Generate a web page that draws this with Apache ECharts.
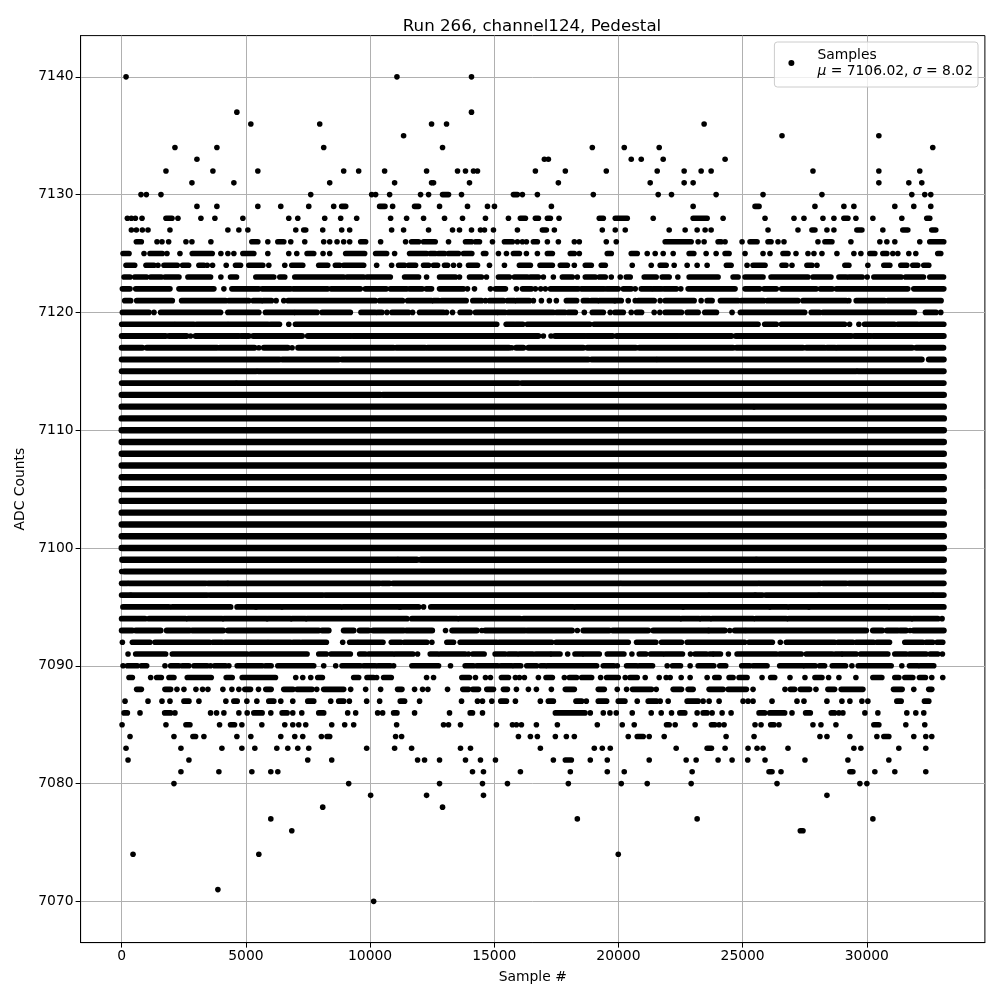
<!DOCTYPE html>
<html>
<head>
<meta charset="utf-8">
<title>Run 266, channel124, Pedestal</title>
<script src="https://cdn.jsdelivr.net/npm/echarts@6/dist/echarts.min.js"></script>
<style>
html,body{margin:0;padding:0;background:#fff}
#main{width:1000px;height:1000px}
</style>
</head>
<body>
<div id="main"></div>
<script>
// sample numbers read per ADC level. a number is one dot, [from,to] a stretch where the dots merge into a bar
const upperTail = {
  7140:[175,11082,14084],
  7137:[4637,14084],
  7136:[5199,7973,12476,13079,23450],
  7135:[11350,26586,30485],
  7134:[2144,3833,8134,12918,18948,20234,21641,32656],
  7133:[3029,17018,17179,20516,20918,21802,24294],
  7132:[1782,3672,5481,8938,9541,10586,12275,13521,13842,14164,14325,16656,17862,19511,21561,22646,23330,23732,27832,30485,32133],
  7131:[2828,4516,8375,10988,12476,12556,14003,17581,21279,22646,23008,30485,31691,32214],
  7130:[777,992,1581,7611,10064,10224,10787,12033,12355,[12918,13159],13682,[15772,15933],16134,16737,18988,21601,22137,23933,25822,28194,31812,32334,32576],
  7129:[3029,3833,5481,6405,7531,8536,[8858,9018],[10385,10600],10908,[11792,11953],12797,13923,14727,15008,17300,23008,[25500,25661],27912,29078,29480,31128,31892,32576],
  7128:[228,389,550,818,[1782,2024],2265,3189,3752,4878,6727,7089,8174,8817,9461,10827,11471,12154,12998,13722,14646,15571,[16053,16254],[16656,16777],[17139,17259],17608,[19229,19390],[19872,20355],21400,[23008,23571],24214,25902,27068,27470,28234,28676,[29078,29239],29561,30244,31410,[32415,32535]],
  7127:[389,590,831,1059,1943,4275,4717,5079,7008,[7330,7410],8094,8858,9179,10868,11350,12355,13320,13601,14084,14445,14606,14968,15933,[16938,17098],17420,19350,19872,20274,22043,22686,23169,23490,23732,26023,27229,[27792,27912],28395,28676,[29601,29802],30646,[31450,31651],[32616,32777]],
  7126:[[590,790],1421,1622,1890,2586,2828,3591,[5240,5481],5883,[6285,6526],6807,7370,8134,8375,8670,8938,9179,[9622,9822],10425,11430,[11672,11953],[12154,12623],13159,[13842,14084],[14244,14405],14928,[15410,15732],15933,16134,16295,[16576,16737],17139,17581,18224,18425,19511,19913,[21882,22928],23209,23450,[24013,24134],24294,24978,[25299,25581],[26023,26144],26425,26666,28033,[28314,28596],29360,30525,30807,31128,32133,[32535,33098]],
  7125:[[54,295],898,[1139,1635],1823,2345,[2841,3645],3993,4275,4516,[4878,5320],5883,6727,7049,[7464,7732],8107,8375,[9018,9782],[10224,10667],10988,[11591,12275],[12422,12623],[12757,12998],[13159,13561],[13762,14097],[14566,14660],15169,15491,[15772,16013],16295,16737,[17139,17340],[18063,18224],18425,[19551,19712],[20516,20757],21159,21480,21802,22204,[22847,23035],23531,23933,[24294,24455],25098,25822,26103,[26626,26827],27149,27631,27872,28194,28797,29480,29762,[30123,30324],[30646,30807],31048,31249,31691,31973,[32857,32978]],
  7124:[[174,523],[978,1300],1461,[1702,2238],[2452,2694],[3109,3310],3444,3658,4208,[4583,4784],[5119,5682],5923,6566,[6848,7290],[7933,8295],[8603,8777],[8938,9742],10265,10868,[11149,11390],[11551,11832],[12154,12355],[12556,12717],[12998,13119],13360,13601,[13963,14325],14807,15410,[16013,16455],[16844,17340],[17661,17943],18224,[18666,18908],[19310,19470],20556,21320,[21681,21922],22244,22767,23169,23571,[24348,24536],25179,[25420,25902],[26586,26747],26988,[27591,27792],27993,[29118,29279],30043,[30686,30927],[31370,31611],[31852,32053],[32294,32495]],
  7123:[[94,335],[523,1005],[1166,1595],[1742,2305],[2667,3578],3993,[4382,4623],[5400,6124],[6365,6566],[6968,8938],[9072,9742],[9876,10815],[11390,11953],12275,[12797,13440],13601,[14003,14486],14687,[15169,15611],[15812,16335],[16455,16777],16978,17380,[17742,18144],18345,[18666,19068],[19229,19470],19712,20073,[20315,20475],[21038,21521],[21762,22043],22392,[22847,24013],[24616,24817],[25098,25822],[26144,27631],[27832,28556],[28877,29172],[29279,29815],30016,[30284,31383],[31557,32281],[32535,33090]],
  7122:[[27,335],[563,1943],[2305,3712],4114,[4436,5521],[5655,6794],[6901,8295],[8429,9608],[9809,10653],[10814,11484],[11591,12100],[12261,12476],[12797,13762],13923,14204,14847,[15048,15450],15893,[16134,16496],16656,16871,17058,[17259,18385],[18506,19430],[19524,19993],[20194,20516],20676,[20918,21333],[21400,21735],[21829,22338],22512,[22807,24696],[25098,25688],[25862,26358],[26572,27966],[28127,28609],[28770,31651],[31892,33100]],
  7121:[[121,362],[603,2037],[2412,4181],[4315,5119],[5293,5615],[5695,6030],6218,6526,[6700,10211],[10385,11310],[11511,12476],[12556,12757],[12878,13869],[14137,14486],14646,[14807,15370],[15530,15812],[15893,16415],16576,16898,17219,17501,[17903,18318],[18586,18787],[18908,19149],[19229,19832],[19872,20114],20395,20676,[20797,21440],21681,[21882,23048],23330,[23571,23772],[24107,24817],[24951,25849],[25996,27229],[27430,29172],29279,[29574,30713],[30847,32991]],
  7120:[[27,1099],1300,[1568,3980],[4275,5521],[5789,6928],[6995,7866],[8067,9206],[9635,10211],[10305,10479],10680,[10881,11551],11712,[11993,12958],13079,13320,[13628,14030],[14244,15102],[15169,15437],[15571,17380],[17514,17849],[17983,18264],18626,[18948,19390],19671,[19859,20194],20516,[20730,20931],21440,21668,[21882,22539],[22767,23209],[23477,23946],24576,[24911,27497],[27765,28100],[28234,31919],[32361,32790],32978],
  7119:[[0,2104],[2171,2908],[3015,4248],[4315,5896],[5990,6352],6727,[6995,15100],[15480,15800],[15880,16150],[16330,18850],[19020,25621],[25889,26358],[26559,29105],29306,29681,[29909,31115],[31249,32053],[32147,33100]]
};
const shoulderHigh = {
  7118:[[0,1769],[1903,2613],2774,[2975,4717],[4811,5119],[5293,7263],[7491,9233],[9313,12221],[12261,16777],16978,17286,[17447,18653],[18720,19765],[19926,22405],[22472,24549],[24723,29373],[29507,30177],[30271,33100]],
  7117:[[0,831],[1005,3846],[3953,5347],5521,[5722,6687],6861,[7102,10948],[11055,12221],[12315,15598],15705,[15879,16174],[16375,18586],[18747,20703],[20837,24616],[24750,27430],[27564,28301],[28395,28730],[28810,31825],[31986,33085]],
  7116:[[0,6352],[6459,8737],[8871,18787],[18921,21507],[21574,32214],[32495,33100]],
  7115:[[0,5414],[5494,29574],[29641,33100]],
  7114:[[0,4583],[4650,15972],[16107,33100]]
};
const core = {
  7113:[[0,10412],[10519,33100]],
  7112:[[0,25420],[25500,33100]],
  7111:[[0,33100]],
  7110:[[0,33100]],
  7109:[[0,33100]],
  7108:[[0,33100]],
  7107:[[0,33100]],
  7106:[[0,33100]],
  7105:[[0,33100]],
  7104:[[0,33100]],
  7103:[[0,33100]],
  7102:[[0,33100]],
  7101:[[0,33100]],
  7100:[[0,33100]],
  7099:[[27,11082],[11149,11886],[12047,25527],[25581,33100]]
};
const shoulderLow = {
  7098:[0,[94,13655],[13735,33100]],
  7097:[[0,228],[295,3377],[3470,4248],[4288,10385],[10479,10787],[10921,20060],[20127,25621],[25688,28127],[28234,29172],[29279,33100]],
  7096:[[0,335],[389,3444],[3551,8094],[8201,23611],[23678,25487],[25527,25795],[25929,28033],[28100,32629],[32696,33100]],
  7095:[[54,1903],[2037,4382],[4650,5387],[5427,6419],[6486,8804],[8911,11189],[11216,11953],12154,[12449,18184],[18278,22579],[22633,26063],[26130,26787],[26894,27644],[27698,30847],[30941,33100]],
  7094:[[0,938],[1099,2573],[2667,4047],[4114,5829],[5883,6794],[6861,7397],[7464,11484],[11685,13494],[13601,16040],[16174,22472],[22552,23249],[23330,23678],[23772,25420],[25527,26760],[26854,31785],[31852,32857],33031],
  7093:[[0,429],[563,1568],[1809,2734],[2841,4087],[4275,7933],[8067,8335],[8938,9340],[9581,9943],[10117,11350],[11457,12502],13038,[13306,14298],14499,[14633,16241],[16335,18130],18345,[18586,19631],[19765,21199],[21400,23611],[23651,24281],24482,[24683,25085],[25152,29976],[30244,30619],[30807,31249],[31343,31584],31745,[31878,33100]]
};
const lowerTail = {
  7092:[27,[429,1139],[1340,3538],[3672,4047],[4154,4985],[5079,5856],[5923,6794],[6901,7169],[7263,8241],8898,[9179,9474],[9541,10519],[10855,11243],[11377,12288],12489,[13092,13360],[13628,15102],[15196,17313],[17487,20395],[20730,21507],[21735,22539],[22767,25085],[25259,26197],26519,[26760,28703],[28837,29440],[29574,30271],[30405,30914],[31530,32254],[32388,32656],[32830,33058]],
  7091:[255,[563,1769],[2037,5052],[5186,7464],[7933,8241],[8429,9206],[9581,9809],[9943,10921],[11015,11725],11913,[12422,12717],[12824,13829],13963,[14137,14593],[15035,15437],[15571,15906],[16013,16549],[16670,17246],[17313,17648],17956,[18251,18532],[18613,19229],[19551,20221],20542,[20837,21105],[21293,21775],[21869,22579],22901,[23088,23544],[23678,23785],[23852,24107],24428,[24777,26358],[26492,27363],[27564,28609],[28730,28971],[29038,29574],[29748,30847],[31128,31584],[31718,32388],[32549,32857],33045],
  7090:[54,[228,630],[791,1005],1742,[1970,2305],[2439,2707],[2908,3444],3578,[3739,4181],4315,[4650,5655],[5789,6017],[6285,7732],8134,8616,[8871,9608],[9742,10211],[10318,10814],10948,[11685,12757],13239,[13829,14164],[14298,15142],[15263,15705],[15799,16067],[16308,16710],[16871,17045],[17139,19122],[19390,19819],19953,[20328,20730],[20837,21373],21963,[22177,22499],22887,[23209,23839],[24080,24321],[24964,25286],[25420,25983],[26492,27430],[27497,27926],[28100,28301],[28609,29145],29400,[29654,30981],31410,[31718,32053],[32147,32696]],
  7089:[[295,429],1166,[1407,1595],[1903,2104],[2640,3605],[4208,4449],[4851,6191],7008,7290,7611,[7893,8080],[9340,9541],[9876,10144],10265,[10546,10854],12275,12556,[13695,14003],14244,14646,14847,[15290,15571],15852,16013,16214,16777,[17085,17340],17822,[18023,18318],[18519,18921],19283,[19524,19993],20274,[20462,20757],21078,21641,21923,22083,22526,22887,23571,[23879,24053],[24455,24616],[24857,25179],25782,[26130,26291],26907,27510,[27912,28194],28462,28877,29561,[30244,30606],[31128,31289],[31530,31852],[32120,32361],32616,33058],
  7088:[[603,791],[1742,1970],2225,2506,2988,3256,3471,4074,4436,4717,[4958,5186],5508,[5802,6017],[6526,6901],[7062,7665],7853,[8134,8938],9219,9822,10425,[11109,11283],11792,12114,12328,13119,[13735,13963],[14137,14365],[14700,14968],[15370,15531],15893,16375,16697,17300,[17862,18224],[19189,19430],19953,20328,[20569,21333],21521,[22204,22539],[22807,23008],[23651,24214],[24415,25152],25420,26706,[26921,27095],[27323,27698],27953,[28435,28703],[28971,29842],[31075,31423],31892,[32495,32616]],
  7087:[134,1059,1622,1943,[2506,2707],3109,4194,[4516,4650],5039,5441,[5923,6124],6405,6888,[7491,7732],8416,[8737,8938],9166,9863,10385,[11216,11390],11993,13682,14325,14526,14901,[15263,15491],15852,16857,[17179,17380],[18291,18519],18707,[19189,19524],[19993,20261],20757,[21199,21534],21681,22003,[22767,23209],23410,23651,24053,25018,25219,25420,26184,27189,27470,28395,28998,29319,29802,30043,[31209,31383],[32321,32495]],
  7086:[[94,228],737,[1729,1970],2144,3578,3819,4114,4717,5052,[5320,5655],6003,[6459,6660],6888,7250,[7933,8134],9099,9420,10305,10506,[10948,11082],11792,13199,[14030,14124],14526,[17460,18653],18867,19390,19658,19913,20556,21320,21722,22137,[22472,22673],23169,[23410,23571],23772,24174,24536,[25661,25889],[26090,26693],26988,[27537,27725],[28569,28703],28877,29038,29923,30445,31611,31973,32294],
  7085:[14,1782,[2586,2747],3940,[4382,4543],4838,5642,6566,6888,7129,7410,8456,8978,9340,11069,12958,13159,13641,15089,15732,15893,16094,16697,17541,19149,20154,20636,[21936,22043],22285,23088,[23745,23879],24053,24254,25500,25742,[26130,26264],26465,27832,28154,28757,[30284,30485],31571,32334],
  7084:[335,2104,[2868,2975],3310,4637,5199,6405,6968,7290,8040,[8268,8375],11028,11270,15973,16455,16737,17460,17903,18224,20395,[20757,20998],21239,21842,24335,25460,28113,28395,29319,30405,[30686,30887],31892,32375,32616],
  7083:[174,2385,4034,4838,5360,6245,6687,7089,7531,9863,10988,11672,13641,14043,16857,19028,19350,19671,22325,[23571,23745],24294,25219,25581,25822,26827,29480,29762,31289,32375],
  7082:[255,2707,7491,8456,11913,12194,12797,13842,14445,15048,17380,[17862,18104],18867,19551,21239,22727,23129,24013,24576,25206,25902,27510,29239,30887],
  7081:[2385,3913,5240,6003,6285,14124,14566,16053,18063,19551,20234,22968,[26063,26184],26546,[29319,29440],30324,31128,32375],
  7080:[2104,9139,12797,14526,15531,17983,20114,21159,22928,26385,29721,30003],
  7079:[10023,12275,14566,28395],
  7078:[8094,12918],
  7077:[6003,18345,23169,30244],
  7076:[6848,[27323,27430]],
  7074:[456,5521,19993],
  7071:[3873],
  7070:[10144]
};
const xTicks = [0,5000,10000,15000,20000,25000,30000];
const yTicks = [7070,7080,7090,7100,7110,7120,7130,7140];
const titleText = 'Run 266, channel124, Pedestal';
const seriesName = 'Samples';
const mu = '7106.02';
const sigma = '8.02';

var dots = [];
var stretches = [];
[upperTail, shoulderHigh, core, shoulderLow, lowerTail].forEach(function(group){
    // the bars in the core look fatter than the dots
    var barWidth = group === core ? 6.4 : (group === shoulderHigh || group === shoulderLow ? 5.9 : 5.6);
    Object.keys(group).forEach(function(level){
        group[level].forEach(function(s){
            if (Array.isArray(s)) {
                stretches.push([s[0], s[1], Number(level), barWidth]);
            } else {
                dots.push([s, Number(level)]);
            }
        });
    });
});

var fontName = '"DejaVu Sans"';
var chart = echarts.init(document.getElementById('main'), null, {renderer:'canvas'});
var option = {
    animation: false,
    backgroundColor: '#fff',
    textStyle: {fontFamily: fontName, color:'#000'},
    title: {
        text: titleText,
        left: 527, top: 13.5,
        textAlign: 'center',
        textStyle: {fontFamily: fontName, fontSize: 16.67, fontWeight: 'normal', color:'#000'}
    },
    grid: {left: 80.6, right: 15.1, top: 35.6, bottom: 57.4, show: true, borderColor:'#000', borderWidth:1, containLabel:false},
    legend: {
        data: [seriesName],
        right: 22, top: 42,
        padding: [6, 5, 9, 14],
        backgroundColor: 'rgba(255,255,255,0.8)',
        borderColor: '#ccc', borderWidth: 1, borderRadius: 3,
        itemWidth: 42, itemHeight: 6,
        icon: 'circle',
        formatter: function(){
            return '{t|Samples}\n{i|μ}{t| = ' + mu + ', }{i|σ}{t| = ' + sigma + '}';
        },
        textStyle: {
            color:'#000', fontFamily: fontName, fontSize: 13.89,
            rich: {
                t: {fontFamily: fontName, fontSize: 13.89, lineHeight: 16, color:'#000'},
                i: {fontFamily: fontName, fontSize: 13.89, lineHeight: 16, fontStyle:'italic', color:'#000'}
            }
        }
    },
    xAxis: {
        type: 'value',
        min: -1655, max: 34755,
        name: 'Sample #', nameLocation: 'middle', nameGap: 28,
        nameTextStyle: {fontFamily: fontName, fontSize: 13.89, color:'#000'},
        axisLine: {show:true, onZero:false, lineStyle:{color:'#000', width:1}},
        axisTick: {show:true, length:5, inside:false, customValues: xTicks, lineStyle:{color:'#000', width:1}},
        axisLabel: {show:true, margin:7, color:'#000', fontFamily: fontName, fontSize: 13.89, customValues: xTicks,
            formatter: function(v){return String(v);}},
        splitLine: {show:true, lineStyle:{color:'#b0b0b0', width:1}}
    },
    yAxis: {
        type: 'value',
        min: 7066.5, max: 7143.5,
        name: 'ADC Counts', nameLocation: 'middle', nameGap: 52,
        nameTextStyle: {fontFamily: fontName, fontSize: 13.89, color:'#000'},
        axisLine: {show:true, onZero:false, lineStyle:{color:'#000', width:1}},
        axisTick: {show:true, length:5, inside:false, customValues: yTicks, lineStyle:{color:'#000', width:1}},
        axisLabel: {show:true, margin:7, color:'#000', fontFamily: fontName, fontSize: 13.89, customValues: yTicks,
            formatter: function(v){return String(v);}},
        splitLine: {show:true, lineStyle:{color:'#b0b0b0', width:1}}
    },
    series: [
        {
            name: seriesName,
            type: 'scatter',
            symbol: 'circle',
            symbolSize: 5.6,
            itemStyle: {color:'#000', opacity:1},
            large: false,
            silent: true,
            z: 3,
            data: dots
        },
        {
            // merged dots, too dense to tell one sample from the next
            name: 'merged',
            type: 'custom',
            silent: true,
            z: 3,
            encode: {x:[0,1], y:2},
            renderItem: function(params, api){
                var a = api.coord([api.value(0), api.value(2)]);
                var b = api.coord([api.value(1), api.value(2)]);
                return {
                    type: 'line',
                    shape: {x1:a[0], y1:a[1], x2:b[0], y2:b[1]},
                    style: {stroke:'#000', lineWidth:api.value(3), lineCap:'round', fill:null}
                };
            },
            data: stretches
        }
    ]
};
chart.setOption(option);
</script>
</body>
</html>
